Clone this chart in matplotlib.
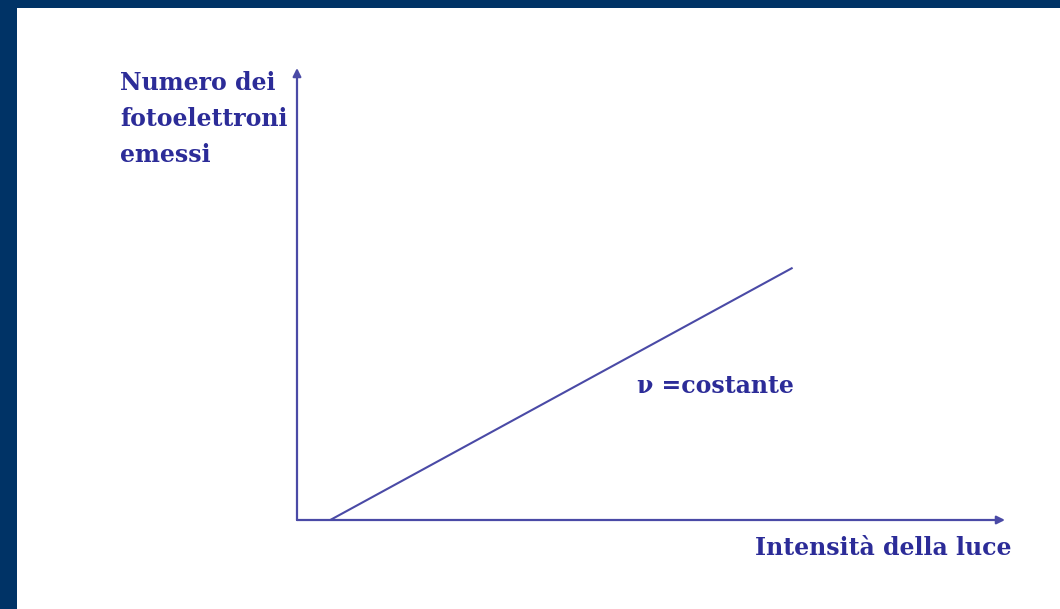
import matplotlib
matplotlib.use("Agg")
import matplotlib.pyplot as plt
from matplotlib.patches import Rectangle

# Photoelectric effect: emitted photoelectrons vs light intensity (constant frequency)
intensity = [0.47, 7.0]
electrons = [0.0, 5.58]

x_label = "Intensità della luce"
y_label_lines = ["Numero dei", "fotoelettroni", "emessi"]
curve_label = "ν =costante"

W, H = 1060, 609
fig = plt.figure(figsize=(W / 100, H / 100), dpi=100, facecolor="#003366")
fig.patches.append(Rectangle((17 / W, 0), 1 - 17 / W, 1 - 8 / H,
                             transform=fig.transFigure, facecolor="white",
                             edgecolor="none", zorder=-10))

line_color = "#4a4aa6"
text_color = "#2c2c98"

ax = fig.add_axes([297 / W, 1 - 520 / H, 708 / W, 452 / H])
ax.set_zorder(5)
ax.set_facecolor("none")
ax.set_xlim(0, 10)
ax.set_ylim(0, 10)
for s in ax.spines.values():
    s.set_visible(False)
ax.set_xticks([])
ax.set_yticks([])

arrow = dict(arrowstyle="-|>", color=line_color, lw=1.6,
             mutation_scale=12, shrinkA=0, shrinkB=0)
ax.annotate("", xy=(1, 0), xytext=(0, 0), xycoords="axes fraction",
            arrowprops=arrow)
ax.annotate("", xy=(0, 1), xytext=(0, 0), xycoords="axes fraction",
            arrowprops=arrow)

ax.plot(intensity, electrons, color=line_color, lw=1.5, solid_capstyle="butt")

font = dict(family="DejaVu Serif", weight="bold", color=text_color,
            fontsize=17, ha="left", va="baseline")
for line, base in zip(y_label_lines, [90, 126, 162]):
    fig.text(120 / W, 1 - base / H, line, **font)
fig.text(637 / W, 1 - 393 / H, curve_label, **font)
fig.text(755 / W, 1 - 555 / H, x_label, **font)

fig.savefig("out.png", dpi=100, facecolor=fig.get_facecolor())
